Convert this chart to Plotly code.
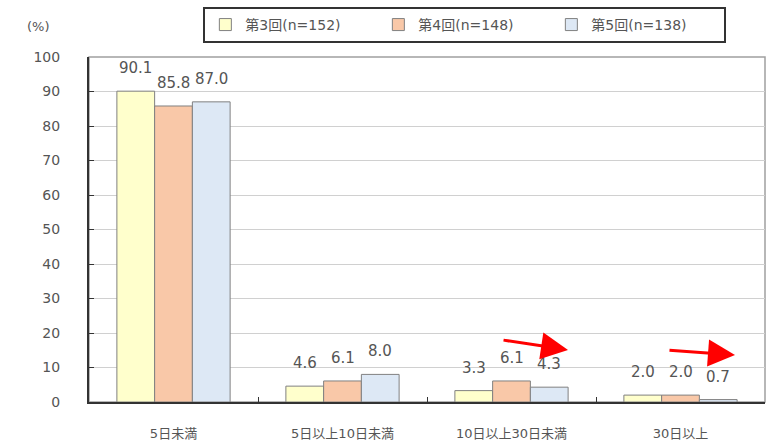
import plotly.graph_objects as go

categories = ["5日未満", "5日以上10日未満", "10日以上30日未満", "30日以上"]
series_names = ["第3回(n=152)", "第4回(n=148)", "第5回(n=138)"]
values_3 = [90.1, 4.6, 3.3, 2.0]
values_4 = [85.8, 6.1, 6.1, 2.0]
values_5 = [87.0, 8.0, 4.3, 0.7]
y_ticks = [0, 10, 20, 30, 40, 50, 60, 70, 80, 90, 100]

series_values = [values_3, values_4, values_5]
colors = ["#FFFFCC", "#F9C8A8", "#DDE8F5"]

W, H = 767, 444
ML, MR, MT, MB = 89, 2, 57, 42
BARGAP = 0.33
FONT = "DejaVu Sans, Noto Sans CJK JP, sans-serif"
TXT = "#555555"

fig = go.Figure()
for name, vals, col in zip(series_names, series_values, colors):
    fig.add_trace(go.Bar(
        x=categories, y=vals, name=name,
        marker=dict(color=col, line=dict(color="#808080", width=1)),
    ))

cat_px = (W - ML - MR) / len(categories)
bar_px = cat_px * (1 - BARGAP) / len(series_names)
annotations = []
for i, vals in enumerate(series_values):
    for c, v in zip(categories, vals):
        annotations.append(dict(
            x=c, y=v, xref="x", yref="y", text=f"{v:.1f}", showarrow=False,
            xshift=(i - 1) * bar_px, yshift=23,
            font=dict(family=FONT, size=15, color=TXT),
        ))

annotations.append(dict(x=-0.075, y=1.087, xref="paper", yref="paper", text="(%)",
                        xanchor="center", yanchor="middle",
                        showarrow=False, font=dict(family=FONT, size=13, color=TXT)))

for tipx, tipy, ax, ay in [(0.7086, 15.1, -66, -10), (0.9556, 13.6, -67, -5)]:
    annotations.append(dict(
        x=tipx, y=tipy, xref="paper", yref="y", ax=ax, ay=ay, axref="pixel", ayref="pixel",
        text="", showarrow=True, arrowhead=2, arrowsize=1.8, arrowwidth=3,
        arrowcolor="#FF0000", standoff=0,
    ))

fig.update_layout(
    width=W, height=H,
    margin=dict(l=ML, r=MR, t=MT, b=MB, autoexpand=False),
    paper_bgcolor="white", plot_bgcolor="white",
    barmode="group", bargap=BARGAP, bargroupgap=0,
    font=dict(family=FONT, color=TXT),
    showlegend=True,
    legend=dict(
        orientation="h", x=0.556, xanchor="center", y=1.145, yanchor="top",
        bordercolor="#333333", borderwidth=2, bgcolor="white",
        font=dict(family=FONT, size=14, color=TXT),
        itemwidth=30, entrywidth=128, traceorder="normal",
    ),
    annotations=annotations,
    shapes=[dict(type="rect", xref="paper", yref="paper", x0=0, x1=1, y0=0, y1=1,
                 line=dict(color="#A0A0A0", width=1.5), layer="below")],
)
fig.update_xaxes(
    automargin=False,
    showgrid=False, showline=True, linecolor="#333333", linewidth=2,
    ticks="inside", tickson="boundaries", ticklen=5, tickcolor="#333333",
    tickfont=dict(family=FONT, size=13, color=TXT), ticklabelstandoff=18,
)
fig.update_yaxes(
    automargin=False,
    range=[0, 100], tickvals=y_ticks, showgrid=True, gridcolor="#D0D0D0", gridwidth=1,
    showline=True, linecolor="#333333", linewidth=2,
    ticks="inside", ticklen=5, tickcolor="#333333",
    tickfont=dict(family=FONT, size=14, color=TXT), ticklabelstandoff=24,
    zeroline=False,
)

fig.write_html("out.html", config={"displayModeBar": False},
               post_script="document.body.style.margin='0px';document.body.style.overflow='hidden';")
